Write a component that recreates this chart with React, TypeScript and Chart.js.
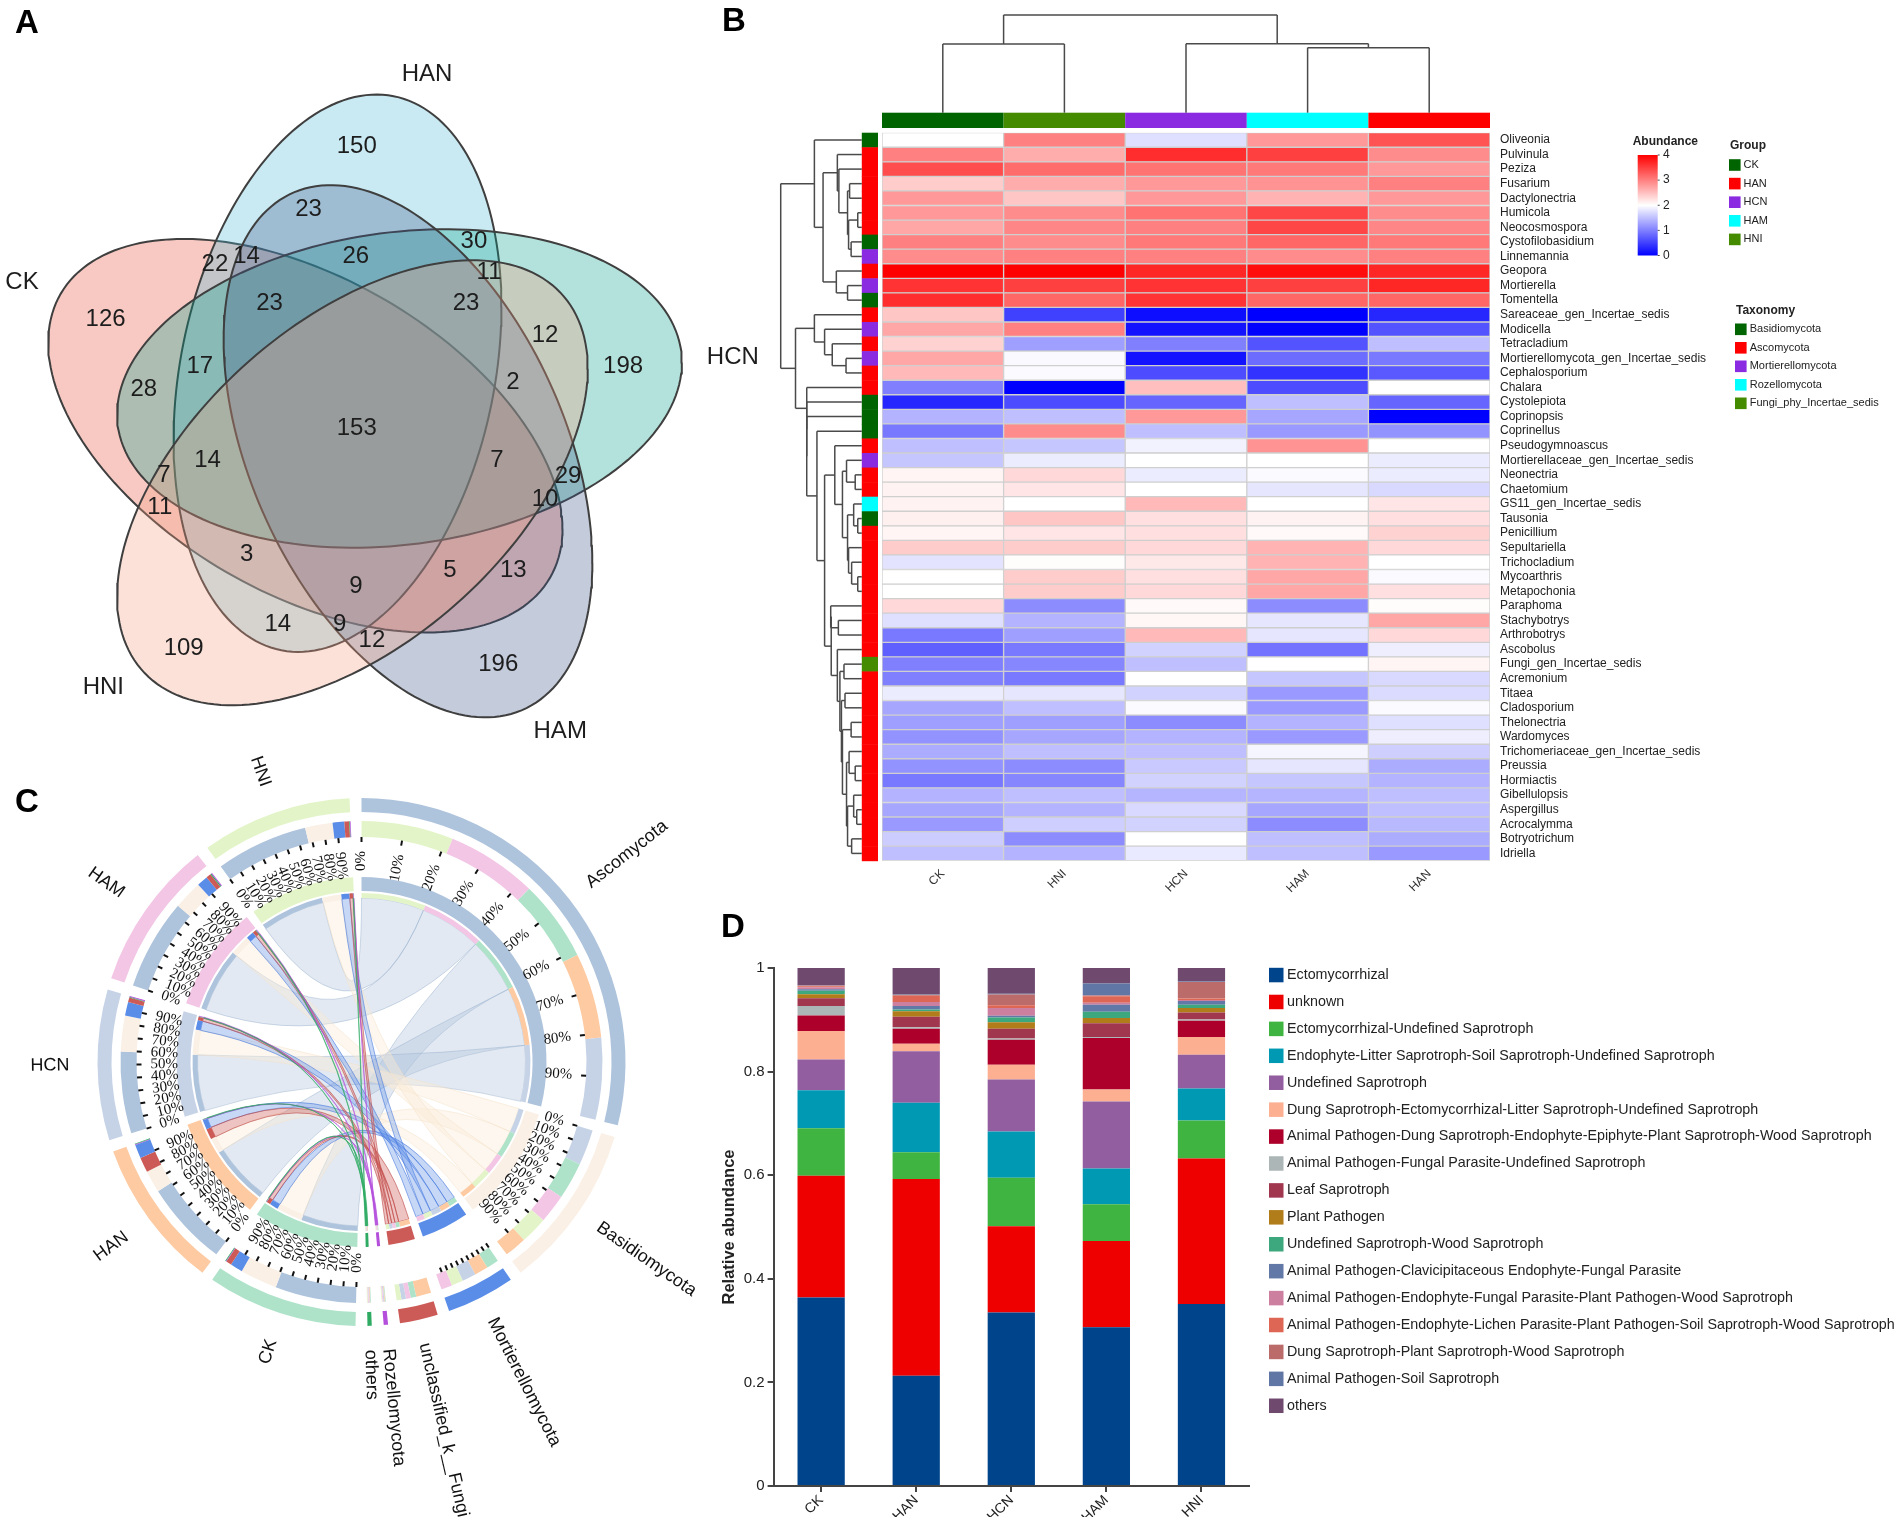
import React, { useEffect, useRef } from "react";
import { Chart, registerables } from "chart.js";

Chart.register(...registerables);
Chart.defaults.font.family = "'Liberation Sans', Arial, sans-serif";
Chart.defaults.color = "#222";

/* ---------- A: Venn ---------- */
const vennNames = ["CK", "HAN", "HCN", "HNI", "HAM"];
const vennColors = ["#E64B35", "#4DBBD5", "#00A087", "#F39B7F", "#3C5488"];
const vennStack = [5, 4, 3, 1, 2];
// bounding box of each set and where its top touches: xmin, xmax, ymin, ymax, xAtTop
const vennCK = [105, 1225, 493, 1305, 400];
const vennHAN = [378, 1092, 195, 1345, 820];
const vennHCN = [255, 1485, 473, 1130, 970];
const vennHNI = [255, 1280, 537, 1455, 1030];
const vennHAM = [487, 1290, 382, 1480, 720];
const vennCounts = [150, 23, 30, 11, 26, 22, 14, 23, 23, 12, 198, 126, 17, 28, 2, 153, 14, 7, 7, 29, 11, 10, 3, 5, 13, 9, 14, 9, 12, 109, 196];
const vennCountX = [777, 672, 1032, 1065, 775, 468, 537, 587, 1015, 1187, 1357, 230, 435, 313, 1117, 777, 452, 1082, 357, 1237, 348, 1187, 537, 980, 1118, 775, 605, 740, 810, 400, 1085];
const vennCountY = [302, 432, 497, 562, 529, 546, 529, 626, 626, 691, 756, 659, 756, 804, 789, 884, 949, 949, 981, 982, 1047, 1031, 1144, 1176, 1176, 1209, 1289, 1289, 1322, 1337, 1371];
const vennNameX = [48, 930, 1596, 225, 1220];
const vennNameY = [583, 153, 738, 1418, 1508];

function outline(b: number[]) {
  const cx = (b[0] + b[1]) / 2, cy = (b[2] + b[3]) / 2;
  const xh = (b[1] - b[0]) / 2, yh = (b[3] - b[2]) / 2;
  const d = Math.acos((b[4] - cx) / xh);
  const pts = [];
  for (let i = 0; i <= 180; i++) {
    const t = (i / 180) * Math.PI * 2;
    pts.push({ x: cx + xh * Math.cos(t), y: cy - yh * Math.cos(t - d) });
  }
  return pts;
}

function vennConfig(): any {
  const sets = [vennCK, vennHAN, vennHCN, vennHNI, vennHAM];
  return {
    type: "scatter",
    data: {
      datasets: [
        ...sets.map((b, i) => ({
          label: vennNames[i],
          data: outline(b),
          order: vennStack[i],
          showLine: true,
          fill: "shape",
          backgroundColor: vennColors[i] + "4D",
          borderColor: "#3f3f3f",
          borderWidth: 2,
          pointRadius: 0,
          tension: 0,
        })),
        {
          label: "counts",
          data: vennCounts.map((_, i) => ({ x: vennCountX[i], y: vennCountY[i] })),
          order: 0,
          pointRadius: 0,
        },
      ],
    },
    options: {
      responsive: false,
      animation: false,
      layout: { padding: 0 },
      plugins: { legend: { display: false }, tooltip: { enabled: false } },
      scales: {
        x: { display: false, min: 0, max: (800 * 1568) / 720 },
        y: { display: false, min: 0, max: 1568, reverse: true },
      },
    },
    plugins: [
      {
        id: "vennText",
        afterDatasetsDraw(chart: any) {
          const { ctx, scales } = chart;
          ctx.save();
          ctx.font = "24px 'Liberation Sans'";
          ctx.fillStyle = "#1d1d1d";
          ctx.textAlign = "center";
          ctx.textBaseline = "middle";
          vennCounts.forEach((c, i) =>
            ctx.fillText(String(c), scales.x.getPixelForValue(vennCountX[i]), scales.y.getPixelForValue(vennCountY[i]))
          );
          vennNames.forEach((n, i) =>
            ctx.fillText(n, scales.x.getPixelForValue(vennNameX[i]), scales.y.getPixelForValue(vennNameY[i]))
          );
          ctx.restore();
        },
      },
    ],
  };
}

/* ---------- B: heatmap ---------- */
const genera = ["Oliveonia", "Pulvinula", "Peziza", "Fusarium", "Dactylonectria", "Humicola", "Neocosmospora", "Cystofilobasidium", "Linnemannia", "Geopora", "Mortierella", "Tomentella", "Sareaceae_gen_Incertae_sedis", "Modicella", "Tetracladium", "Mortierellomycota_gen_Incertae_sedis", "Cephalosporium", "Chalara", "Cystolepiota", "Coprinopsis", "Coprinellus", "Pseudogymnoascus", "Mortierellaceae_gen_Incertae_sedis", "Neonectria", "Chaetomium", "GS11_gen_Incertae_sedis", "Tausonia", "Penicillium", "Sepultariella", "Trichocladium", "Mycoarthris", "Metapochonia", "Paraphoma", "Stachybotrys", "Arthrobotrys", "Ascobolus", "Fungi_gen_Incertae_sedis", "Acremonium", "Titaea", "Cladosporium", "Thelonectria", "Wardomyces", "Trichomeriaceae_gen_Incertae_sedis", "Preussia", "Hormiactis", "Gibellulopsis", "Aspergillus", "Acrocalymma", "Botryotrichum", "Idriella"];
const hmColumns = ["CK", "HNI", "HCN", "HAM", "HAN"];
const hmCK = [2, 3, 3.4, 2.4, 2.8, 2.8, 2.7, 3, 2.9, 4, 3.6, 3.65, 2.45, 2.7, 2.35, 2.7, 2.55, 1, 0.3, 1.4, 0.95, 1.5, 1.55, 2.08, 2.1, 2.1, 2.12, 2.08, 2.4, 1.78, 2, 2, 2.3, 1.75, 0.95, 0.75, 1, 1, 1.85, 1.3, 1.25, 1.15, 1.35, 1.15, 0.95, 1.4, 1.3, 1.2, 1.6, 1.5];
const hmHNI = [3, 2.65, 3.15, 2.65, 2.45, 2.9, 2.95, 2.9, 3, 4, 3.5, 3.2, 0.5, 3, 1.25, 1.95, 1.97, 0, 0.6, 1.5, 2.9, 1.55, 1.85, 2.3, 2.2, 2, 2.45, 2.2, 2.4, 2.02, 2.4, 2.4, 1.1, 1.4, 1.25, 0.95, 1.05, 0.95, 1.8, 1.5, 1.25, 1.3, 1.5, 1.1, 1.05, 1.5, 1.4, 1.62, 1.1, 1.4];
const hmHCN = [1.75, 3.65, 3.1, 2.8, 2.8, 3.1, 3, 3.05, 3, 3.7, 3.6, 3.6, 0.1, 0.15, 1, 0.15, 0.6, 2.5, 0.8, 2.8, 1.5, 1.9, 2, 1.85, 2, 2.55, 2.25, 2.25, 2.3, 2.18, 2.25, 2.3, 2.05, 2.07, 2.55, 1.65, 1.5, 2, 1.65, 1.97, 1.1, 1.4, 1.5, 1.58, 1.65, 1.42, 1.7, 1.65, 2, 1.83];
const hmHAM = [2.8, 3.5, 3.05, 2.85, 2.6, 3.45, 3.45, 3.2, 2.9, 3.9, 3.5, 3.2, 0, 0, 0.65, 0.85, 0.4, 0.6, 1.5, 1.3, 1.2, 2.85, 2, 1.97, 1.8, 2, 2.1, 2.05, 2.6, 2.6, 2.7, 2.7, 1.1, 1.8, 1.8, 0.9, 2, 1.55, 1.2, 1.2, 1.4, 1.2, 1.92, 1.8, 1.55, 1.42, 1.3, 1.1, 1.5, 1.5];
const hmHAN = [3.35, 2.9, 2.8, 3, 2.8, 2.9, 2.95, 3.05, 3, 3.7, 3.7, 3.2, 0.3, 0.65, 1.5, 0.95, 0.7, 2, 0.8, 0, 1.15, 2, 1.85, 1.85, 1.7, 2.2, 2.25, 2.35, 2.3, 2, 1.97, 2.25, 2.02, 2.7, 2.3, 1.87, 2.08, 1.7, 1.72, 1.97, 1.75, 1.87, 1.62, 1.35, 1.4, 1.5, 1.5, 1.45, 1.35, 1.2];
const hmTaxon = [0, 1, 1, 1, 1, 1, 1, 0, 2, 1, 2, 0, 1, 2, 1, 2, 1, 1, 0, 0, 0, 1, 2, 1, 1, 3, 0, 1, 1, 1, 1, 1, 1, 1, 1, 1, 4, 1, 1, 1, 1, 1, 1, 1, 1, 1, 1, 1, 1, 1];
const groupLegend = ["CK", "HAN", "HCN", "HAM", "HNI"];
const groupLegendColors = ["#006400", "#ff0000", "#8a2be2", "#00ffff", "#458b00"];
const taxonLegend = ["Basidiomycota", "Ascomycota", "Mortierellomycota", "Rozellomycota", "Fungi_phy_Incertae_sedis"];
const taxonColors = ["#006400", "#ff0000", "#8a2be2", "#00ffff", "#458b00"];
const hmColumnColors = ["#006400", "#458b00", "#8a2be2", "#00ffff", "#ff0000"];
const abundanceTicks = [4, 3, 2, 1, 0];
// dendrograms: [height, childA, childB]; a plain number is a row or column index
const colTree: any = [15, [44, 0, 1], [43.7, 2, [47.7, 3, 4]]];
const rowTree: any = [119,
  [185, 0, [202,
    [230, 1, [233, 2, [250, [254, 3, 4], [252, [270, 5, 6], [257, 7, 8]]]]],
    [228, 9, [250, 10, 11]]]],
  [148,
    [185, 12, [205, 13, [220, 14, [247, 15, 16]]]],
    [170, 17, [170, 18, [170, 19, [190, 20, [205,
      [225, 21, [240,
        [248, 22, [265, 23, 24]],
        [250, [262, 25, [270, 26, 27]], [252, 28, [258, 29, [270, 30, 31]]]]]],
      [218,
        [217, 32, [232, 33, 34]],
        [230, 35, [235, [243, 36, 37], [238, [245, 38, 39], [240, [257, 40, 41],
          [248, [253, 42, [265, 43, 44]], [250, [262, 45, [268, 46, 47]], [258, 48, 49]]]]]]]]]]]]]]];

function abundanceColor(v: number) {
  if (v >= 2) {
    const k = Math.round(255 * (1 - (v - 2) / 2));
    return `rgb(255,${k},${k})`;
  }
  const k = Math.round(255 * (v / 2));
  return `rgb(${k},${k},255)`;
}

function heatConfig(): any {
  const cols = [hmCK, hmHNI, hmHCN, hmHAM, hmHAN];
  const TREE_X = 1 / 1.96;
  return {
    type: "bar",
    data: {
      labels: genera,
      datasets: cols.map((c, i) => ({
        label: hmColumns[i],
        data: c.map(() => 1),
        backgroundColor: (ctx: any) => abundanceColor(c[ctx.dataIndex]),
        borderColor: "#cfcfcf",
        borderWidth: 1,
        borderSkipped: false,
        barPercentage: 1,
        categoryPercentage: 1,
      })),
    },
    options: {
      indexAxis: "y",
      responsive: false,
      animation: false,
      layout: { padding: { left: 162, top: 132.7, right: 0, bottom: 0 } },
      plugins: { legend: { display: false }, tooltip: { enabled: false } },
      scales: {
        x: {
          type: "linear",
          stacked: true,
          min: 0,
          max: 5,
          grid: { display: false, drawTicks: false },
          border: { display: false },
          afterBuildTicks: (a: any) => {
            a.ticks = hmColumns.map((_, i) => ({ value: i + 0.5 }));
          },
          ticks: {
            autoSkip: false,
            minRotation: 45,
            maxRotation: 45,
            padding: 6,
            font: { size: 12 },
            color: "#333",
            callback: (v: number) => hmColumns[Math.floor(v)],
          },
          afterFit: (a: any) => {
            a.height = 39.3;
          },
        },
        y: {
          type: "category",
          stacked: true,
          position: "right",
          grid: { display: false, drawTicks: false },
          border: { display: false },
          ticks: { autoSkip: false, padding: 10, font: { size: 12 }, color: "#222" },
          afterFit: (a: any) => {
            a.width = 412;
          },
        },
      },
    },
    plugins: [
      {
        id: "heatDecor",
        afterDatasetsDraw(chart: any) {
          const { ctx, scales } = chart;
          const xs = scales.x, ys = scales.y;
          const band = Math.abs(ys.getPixelForValue(1) - ys.getPixelForValue(0));
          ctx.save();
          // top colour bar
          hmColumnColors.forEach((c, i) => {
            ctx.fillStyle = c;
            ctx.fillRect(xs.getPixelForValue(i), 112.7, xs.getPixelForValue(i + 1) - xs.getPixelForValue(i), 15.3);
          });
          // side colour bar
          hmTaxon.forEach((t, r) => {
            ctx.fillStyle = taxonColors[t];
            ctx.fillRect(141.8, ys.getPixelForValue(r) - band / 2, 16.2, band + 0.5);
          });
          // dendrograms
          ctx.strokeStyle = "#4a4a4a";
          ctx.lineWidth = 1.5;
          const seg = (a: number, b: number, c: number, d: number) => {
            ctx.beginPath();
            ctx.moveTo(a, b);
            ctx.lineTo(c, d);
            ctx.stroke();
          };
          const walkRow = (n: any): [number, number] => {
            if (typeof n === "number") return [141.8, ys.getPixelForValue(n)];
            const x = n[0] * TREE_X;
            const a = walkRow(n[1]), b = walkRow(n[2]);
            seg(x, a[1], a[0], a[1]);
            seg(x, b[1], b[0], b[1]);
            seg(x, a[1], x, b[1]);
            return [x, (a[1] + b[1]) / 2];
          };
          walkRow(rowTree);
          const walkCol = (n: any): [number, number] => {
            if (typeof n === "number") return [xs.getPixelForValue(n + 0.5), 112.7];
            const y = n[0];
            const a = walkCol(n[1]), b = walkCol(n[2]);
            seg(a[0], y, a[0], a[1]);
            seg(b[0], y, b[0], b[1]);
            seg(a[0], y, b[0], y);
            return [(a[0] + b[0]) / 2, y];
          };
          walkCol(colTree);
          // colour key
          const keyX = 1637.7 - 720, keyW = 20, keyT = 155, keyB = 255.5;
          const grad = ctx.createLinearGradient(0, keyT, 0, keyB);
          grad.addColorStop(0, abundanceColor(4));
          grad.addColorStop(0.5, abundanceColor(2));
          grad.addColorStop(1, abundanceColor(0));
          ctx.fillStyle = grad;
          ctx.fillRect(keyX, keyT, keyW, keyB - keyT);
          ctx.fillStyle = "#222";
          ctx.textBaseline = "middle";
          ctx.textAlign = "left";
          ctx.font = "bold 12px 'Liberation Sans'";
          ctx.fillText("Abundance", 1632.7 - 720, 142);
          ctx.font = "12px 'Liberation Sans'";
          ctx.lineWidth = 1;
          abundanceTicks.forEach((t, i) => {
            const y = keyT + ((keyB - keyT) * i) / 4;
            seg(keyX + keyW, y, keyX + keyW + 2, y);
            ctx.fillText(String(t), 1663 - 720, y);
          });
          // group legend
          ctx.font = "bold 12px 'Liberation Sans'";
          ctx.fillText("Group", 1730 - 720, 146);
          ctx.font = "11px 'Liberation Sans'";
          groupLegend.forEach((g, i) => {
            const y = 165 + i * 18.6;
            ctx.fillStyle = groupLegendColors[i];
            ctx.fillRect(1729 - 720, y - 5.8, 11.6, 11.6);
            ctx.fillStyle = "#222";
            ctx.fillText(g, 1743.5 - 720, y);
          });
          // taxonomy legend
          ctx.font = "bold 12px 'Liberation Sans'";
          ctx.fillText("Taxonomy", 1736 - 720, 310.7);
          ctx.font = "11px 'Liberation Sans'";
          taxonLegend.forEach((g, i) => {
            const y = 329.3 + i * 18.5;
            ctx.fillStyle = taxonColors[i];
            ctx.fillRect(1735 - 720, y - 5.8, 11.6, 11.6);
            ctx.fillStyle = "#222";
            ctx.fillText(g, 1749.7 - 720, y);
          });
          ctx.restore();
        },
      },
    ],
  };
}

/* ---------- C: chord ---------- */
const phyla = ["Ascomycota", "Basidiomycota", "Mortierellomycota", "unclassified_k__Fungi", "Rozellomycota", "others"];
const chordGroups = ["CK", "HAN", "HCN", "HAM", "HNI"];
const phylumColors = ["#aec3dc", "#faf0e6", "#5a8de8", "#cc5b57", "#b44fdc", "#2eaa62"];
const chordGroupColors = ["#aee3c9", "#fdcaa2", "#c6d3e7", "#f3c6e6", "#e3f5c8"];
const ckShare = [59, 27, 9, 4, 0.5, 0.5];
const hanShare = [62, 16, 10, 11, 0.5, 0.5];
const hcnShare = [59.5, 26, 10, 3.3, 0.7, 0.5];
const hamShare = [66, 21, 8, 3.5, 0.7, 0.8];
const hniShare = [67, 20, 8.5, 3.5, 0.5, 0.5];
// clockwise order of the partners inside each sector
const phylumOrder = [[4, 3, 0, 1, 2], [2, 0, 3, 4, 1], [0, 1, 2, 4, 3], [1, 0, 3, 2, 4], [0, 1, 2, 3, 4], [0, 1, 2, 3, 4]];
const groupOrder = [[0, 1, 2, 3, 4, 5], [0, 1, 3, 2, 4, 5], [0, 1, 2, 3, 5, 4], [0, 1, 2, 3, 5, 4], [0, 1, 2, 3, 5, 4]];
const tickLabels = ["0%", "10%", "20%", "30%", "40%", "50%", "60%", "70%", "80%", "90%"];
const tickedNoLabel = ["Mortierellomycota"];
const GAP = 7.85;

function chordConfig(): any {
  const shares = [ckShare, hanShare, hcnShare, hamShare, hniShare];
  const outer: any[] = [];
  const parts: any[] = [];
  const pushGap = () => {
    outer.push({ v: GAP, c: "transparent" });
    parts.push({ v: GAP, c: "transparent" });
  };
  phyla.forEach((_, p) => {
    outer.push({ v: shares.reduce((s, g) => s + g[p], 0), c: phylumColors[p], name: phyla[p], kind: "p" });
    phylumOrder[p].forEach((g) => parts.push({ v: shares[g][p], c: chordGroupColors[g], p, g, side: "p" }));
    pushGap();
  });
  chordGroups.forEach((name, g) => {
    outer.push({ v: shares[g].reduce((s, x) => s + x, 0), c: chordGroupColors[g], name, kind: "g" });
    groupOrder[g].forEach((p) => parts.push({ v: shares[g][p], c: phylumColors[p], p, g, side: "g" }));
    pushGap();
  });
  const ring = (items: any[], weight: number) => ({
    data: items.map((s) => s.v),
    backgroundColor: items.map((s) => s.c),
    borderWidth: 0,
    weight,
  });
  const spacer = (weight: number) => ({ data: [1], backgroundColor: ["rgba(0,0,0,0)"], borderWidth: 0, weight });
  const ribbonFill = ["rgba(174,195,220,0.36)", "rgba(250,236,218,0.42)", "rgba(90,141,232,0.34)", "rgba(204,91,87,0.36)", "rgba(180,79,220,0.55)", "rgba(46,170,98,0.6)"];
  const ribbonLine = ["rgba(150,175,205,0.45)", "rgba(245,225,200,0.5)", "rgba(70,120,220,0.6)", "rgba(190,70,70,0.6)", "rgba(180,79,220,0.65)", "rgba(46,170,98,0.7)"];
  return {
    type: "doughnut",
    data: {
      datasets: [ring(outer, 14), spacer(9), ring(parts, 16), spacer(40), ring(outer, 14), spacer(2), ring(parts, 5)],
    },
    options: {
      responsive: false,
      animation: false,
      cutout: "62.12%",
      rotation: 0,
      layout: { padding: { left: 97.5, top: 68, right: 94.5, bottom: 201 } },
      plugins: { legend: { display: false }, tooltip: { enabled: false } },
    },
    plugins: [
      {
        id: "chordDecor",
        beforeDatasetsDraw(chart: any) {
          const { ctx } = chart;
          const meta = chart.getDatasetMeta(6);
          const find = (p: number, g: number, side: string) => {
            const i = parts.findIndex((s) => s.p === p && s.g === g && s.side === side);
            return meta.data[i];
          };
          const first = meta.data[0];
          const cx = first.x, cy = first.y, r = first.innerRadius;
          ctx.save();
          phyla.forEach((_, p) => {
            chordGroups.forEach((__, g) => {
              const a = find(p, g, "p"), b = find(p, g, "g");
              ctx.beginPath();
              ctx.arc(cx, cy, r, a.startAngle, a.endAngle);
              ctx.quadraticCurveTo(cx, cy, cx + r * Math.cos(b.startAngle), cy + r * Math.sin(b.startAngle));
              ctx.arc(cx, cy, r, b.startAngle, b.endAngle);
              ctx.quadraticCurveTo(cx, cy, cx + r * Math.cos(a.startAngle), cy + r * Math.sin(a.startAngle));
              ctx.closePath();
              ctx.fillStyle = ribbonFill[p];
              ctx.fill();
              ctx.strokeStyle = ribbonLine[p];
              ctx.lineWidth = p > 3 ? 0.8 : 1;
              ctx.stroke();
            });
          });
          ctx.restore();
        },
        afterDatasetsDraw(chart: any) {
          const { ctx } = chart;
          const meta = chart.getDatasetMeta(0);
          const cx = meta.data[0].x, cy = meta.data[0].y;
          const radial = (a: number, r: number, text: string, outward: boolean) => {
            const right = Math.cos(a) >= 0;
            ctx.save();
            ctx.translate(cx, cy);
            ctx.rotate(right ? a : a + Math.PI);
            ctx.textBaseline = "middle";
            if (outward) ctx.textAlign = right ? "left" : "right";
            else ctx.textAlign = right ? "right" : "left";
            ctx.fillText(text, right ? r : -(outward ? r + 4 : r), 0);
            ctx.restore();
          };
          ctx.save();
          outer.forEach((s, i) => {
            if (!s.name) return;
            const arc = meta.data[i];
            const span = arc.endAngle - arc.startAngle;
            const ticked = s.kind === "g" || s.name === "Ascomycota" || s.name === "Basidiomycota" || tickedNoLabel.includes(s.name);
            if (ticked) {
              tickLabels.forEach((t, k) => {
                const a = arc.startAngle + (span * k) / 10;
                ctx.strokeStyle = "#111";
                ctx.lineWidth = 2;
                ctx.beginPath();
                ctx.moveTo(cx + 225 * Math.cos(a), cy + 225 * Math.sin(a));
                ctx.lineTo(cx + 220 * Math.cos(a), cy + 220 * Math.sin(a));
                ctx.stroke();
                if (!tickedNoLabel.includes(s.name)) {
                  ctx.fillStyle = "#111";
                  ctx.font = "15px 'Liberation Serif'";
                  radial(a, 211, t, false);
                }
              });
            }
            ctx.fillStyle = "#111";
            ctx.font = "18px 'Liberation Sans'";
            radial((arc.startAngle + arc.endAngle) / 2, 288, s.name, true);
          });
          ctx.restore();
        },
      },
    ],
  };
}

/* ---------- D: stacked bars ---------- */
const guilds = ["Ectomycorrhizal", "unknown", "Ectomycorrhizal-Undefined Saprotroph", "Endophyte-Litter Saprotroph-Soil Saprotroph-Undefined Saprotroph", "Undefined Saprotroph", "Dung Saprotroph-Ectomycorrhizal-Litter Saprotroph-Undefined Saprotroph", "Animal Pathogen-Dung Saprotroph-Endophyte-Epiphyte-Plant Saprotroph-Wood Saprotroph", "Animal Pathogen-Fungal Parasite-Undefined Saprotroph", "Leaf Saprotroph", "Plant Pathogen", "Undefined Saprotroph-Wood Saprotroph", "Animal Pathogen-Clavicipitaceous Endophyte-Fungal Parasite", "Animal Pathogen-Endophyte-Fungal Parasite-Plant Pathogen-Wood Saprotroph", "Animal Pathogen-Endophyte-Lichen Parasite-Plant Pathogen-Soil Saprotroph-Wood Saprotroph", "Dung Saprotroph-Plant Saprotroph-Wood Saprotroph", "Animal Pathogen-Soil Saprotroph", "others"];
const guildColors = ["#00458b", "#ee0000", "#3fb440", "#0099b4", "#925e9f", "#fdaf91", "#ad002a", "#adb6b6", "#a0374f", "#b17d1b", "#3da77d", "#6279a8", "#cc7f9f", "#de6654", "#bb6c6a", "#6076a5", "#6f4a6e"];
const barGroups = ["CK", "HAN", "HCN", "HAM", "HNI"];
const guildCK = [0.364, 0.2347, 0.0919, 0.0732, 0.0598, 0.0546, 0.0299, 0.0187, 0.0149, 0.0075, 0.0067, 0.003, 0.0037, 0.0022, 0.0015, 0.001, 0.0329];
const guildHAN = [0.213, 0.3797, 0.0516, 0.0957, 0.0994, 0.0142, 0.0291, 0.003, 0.0202, 0.0105, 0.0037, 0.0067, 0.0075, 0.012, 0.0022, 0.0015, 0.05];
const guildHCN = [0.3348, 0.1667, 0.0934, 0.0897, 0.1001, 0.0284, 0.0486, 0.0022, 0.0187, 0.0127, 0.009, 0.0037, 0.0149, 0.0052, 0.0209, 0.0015, 0.0493];
const guildHAM = [0.3064, 0.1667, 0.071, 0.0688, 0.1293, 0.0232, 0.0994, 0.0022, 0.0262, 0.0105, 0.012, 0.0135, 0.0037, 0.0127, 0.0015, 0.0232, 0.0299];
const guildHNI = [0.3513, 0.281, 0.0732, 0.062, 0.065, 0.0344, 0.0314, 0.0022, 0.0135, 0.009, 0.006, 0.0075, 0.0015, 0.003, 0.0321, 0.0007, 0.0262];

function barConfig(): any {
  const rows = [guildCK, guildHAN, guildHCN, guildHAM, guildHNI];
  return {
    type: "bar",
    data: {
      labels: barGroups,
      datasets: guilds.map((g, i) => ({
        label: g,
        data: rows.map((r) => r[i]),
        backgroundColor: guildColors[i],
        borderWidth: 0,
        barPercentage: 0.497,
        categoryPercentage: 1,
      })),
    },
    options: {
      responsive: false,
      animation: false,
      layout: { padding: { left: 20, top: 28, right: 653, bottom: 10 } },
      plugins: { legend: { display: false }, tooltip: { enabled: false } },
      scales: {
        x: {
          stacked: true,
          grid: { display: true, offset: false, drawOnChartArea: false, drawTicks: true, tickLength: 6, color: "#444", lineWidth: 2 },
          border: { color: "#444", width: 2 },
          ticks: { minRotation: 45, maxRotation: 45, padding: 0, font: { size: 14 }, color: "#222" },
          afterFit: (a: any) => {
            a.height = 31;
          },
        },
        y: {
          stacked: true,
          min: 0,
          max: 1,
          grid: { display: true, drawOnChartArea: false, drawTicks: true, tickLength: 6, color: "#444", lineWidth: 2 },
          border: { color: "#444", width: 2 },
          ticks: { stepSize: 0.2, padding: 3, font: { size: 15 }, color: "#222", callback: (v: number) => String(Math.round(v * 10) / 10) },
          title: { display: true, text: "Relative abundance", font: { size: 16.5, weight: "bold" }, color: "#222", padding: 0 },
          afterFit: (a: any) => {
            a.width = 53.6;
          },
        },
      },
    },
    plugins: [
      {
        id: "guildLegend",
        afterDatasetsDraw(chart: any) {
          const { ctx } = chart;
          ctx.save();
          ctx.font = "14.3px 'Liberation Sans'";
          ctx.textBaseline = "middle";
          ctx.textAlign = "left";
          chart.data.datasets.forEach((d: any, i: number) => {
            const y = 35 + i * 26.92;
            ctx.fillStyle = d.backgroundColor;
            ctx.fillRect(569, y - 7.2, 14.5, 14.5);
            ctx.fillStyle = "#222";
            ctx.fillText(d.label, 587, y);
          });
          ctx.restore();
        },
      },
    ],
  };
}

/* ---------- page ---------- */
function ChartCanvas({ x, y, w, h, config }: { x: number; y: number; w: number; h: number; config: () => any }) {
  const ref = useRef<HTMLCanvasElement>(null);
  useEffect(() => {
    const chart = new Chart(ref.current as HTMLCanvasElement, config());
    return () => chart.destroy();
  }, [config]);
  return <canvas ref={ref} width={w} height={h} style={{ position: "absolute", left: x, top: y, width: w, height: h }} />;
}

const panelLetters = ["A", "B", "C", "D"];
const letterX = [15, 722, 15, 721];
const letterY = [5, 3, 784, 909];

export default function App() {
  return (
    <div style={{ position: "absolute", left: 0, top: 0, width: 1902, height: 1527, overflow: "hidden", background: "#fff" }}>
      <ChartCanvas x={0} y={0} w={800} h={760} config={vennConfig} />
      <ChartCanvas x={720} y={0} w={1182} h={900} config={heatConfig} />
      <ChartCanvas x={0} y={730} w={720} h={797} config={chordConfig} />
      <ChartCanvas x={700} y={940} w={1202} h={587} config={barConfig} />
      {panelLetters.map((l, i) => (
        <div key={l} style={{ position: "absolute", left: letterX[i], top: letterY[i], font: "bold 33px 'Liberation Sans'", lineHeight: "33px", color: "#000" }}>
          {l}
        </div>
      ))}
    </div>
  );
}
